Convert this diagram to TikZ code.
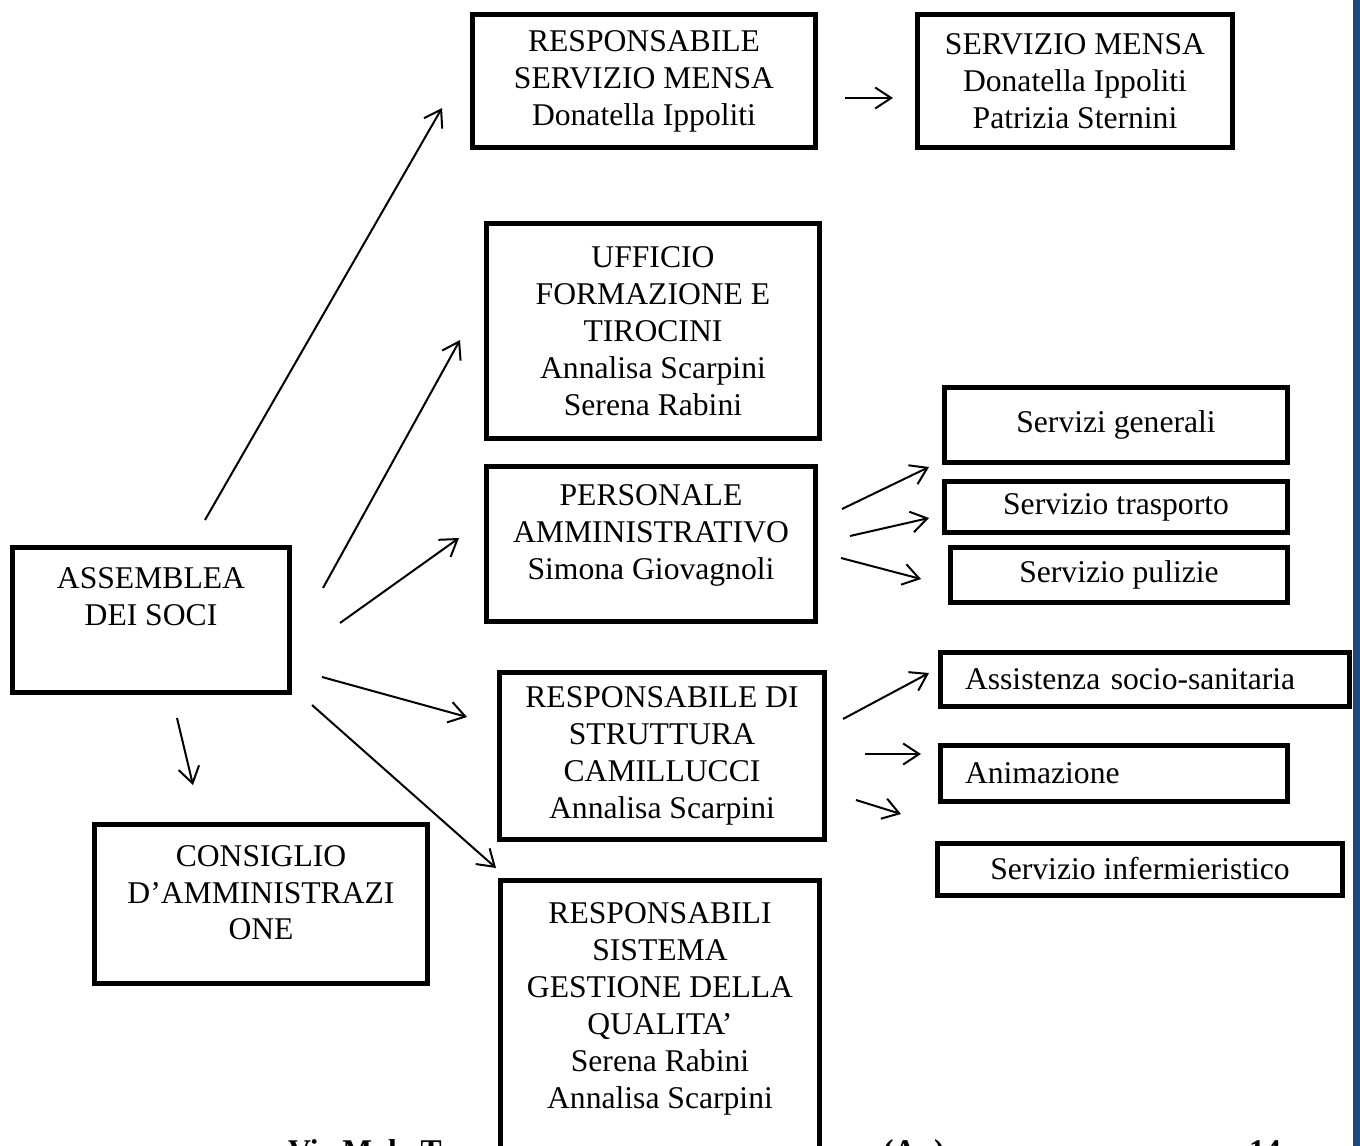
\documentclass[tikz,border=0pt]{standalone}
\usepackage{fontspec}
\setmainfont{Liberation Serif}
\usetikzlibrary{arrows.meta}
\definecolor{sidebar}{RGB}{31,73,125}

\begin{document}
\begin{tikzpicture}[x=0.02cm,y=-0.02cm,
    font=\fontsize{18}{21}\selectfont,
    box/.style={shape=rectangle,draw=black,line width=0.1cm,fill=white,align=center},
    arr/.style={-{Straight Barb[length=0.32cm,width=0.42cm]},line width=0.04cm}]
    \useasboundingbox (0,0) rectangle (1360,1146);
    \clip (0,0) rectangle (1360,1146);

    % footer of the page, partly hidden
    \node[font=\bfseries\fontsize{18}{21}\selectfont,anchor=base west] (footvia) at (282,1161) {Via Mola T};
    \node[font=\bfseries\fontsize{18}{21}\selectfont,anchor=base west] (footprov) at (877,1161) {(An)};
    \node[font=\bfseries\fontsize{18}{21}\selectfont,anchor=base west] (footpage) at (1243,1161) {14};

    \fill[sidebar] (1353,0) rectangle (1360,1146);

    \node[box,minimum width=6.88cm,minimum height=2.68cm] (respmensa) at (644,81) {RESPONSABILE\\SERVIZIO MENSA\\Donatella Ippoliti};
    \node[box,minimum width=6.32cm,minimum height=2.68cm] (mensa) at (1075,81) {SERVIZIO MENSA\\Donatella Ippoliti\\Patrizia Sternini};

    \node[box,minimum width=6.66cm,minimum height=4.3cm] (ufficio) at (653,331) {UFFICIO\\FORMAZIONE E\\TIROCINI\\Annalisa Scarpini\\Serena Rabini};
    \node[box,minimum width=6.58cm,minimum height=3.12cm] (personale) at (651,544) {PERSONALE\\AMMINISTRATIVO\\Simona Giovagnoli\\[-0.26cm]\mbox{}};

    \node[box,minimum width=5.56cm,minimum height=2.92cm] (assemblea) at (151,620) {ASSEMBLEA\\DEI SOCI\\[0.2cm]\mbox{}};
    \node[box,minimum width=6.66cm,minimum height=3.18cm] (consiglio) at (261,904) {CONSIGLIO\\D’AMMINISTRAZI\\ONE\\[-0.28cm]\mbox{}};

    \node[box,minimum width=6.5cm,minimum height=3.34cm] (struttura) at (662,756) {RESPONSABILE DI\\STRUTTURA\\CAMILLUCCI\\Annalisa Scarpini};
    \node[box,minimum width=6.4cm,minimum height=5.76cm] (qualita) at (660,1024) {RESPONSABILI\\SISTEMA\\GESTIONE DELLA\\QUALITA’\\Serena Rabini\\Annalisa Scarpini\\\mbox{}};

    \node[box,minimum width=6.86cm,minimum height=1.52cm] (generali) at (1116,425) {Servizi generali};
    \node[box,minimum width=6.86cm,minimum height=1.04cm] (trasporto) at (1116,507) {Servizio trasporto};
    \node[box,minimum width=6.76cm,minimum height=1.12cm] (pulizie) at (1119,575) {Servizio pulizie};

    \node[box,minimum width=8.2cm,minimum height=1.08cm,text width=7.2cm,inner xsep=0.5cm,align=left] (assistenza) at (1145,679) {Assistenza socio-sanitaria};
    \node[box,minimum width=6.96cm,minimum height=1.12cm,text width=5.96cm,inner xsep=0.5cm,align=left] (animazione) at (1114,773) {Animazione};
    \node[box,minimum width=8.12cm,minimum height=1.04cm] (infermieri) at (1140,869) {Servizio infermieristico};

    % arrows, free standing between the boxes
    \coordinate (s1) at (205,520);  \coordinate (e1) at (442,108);
    \coordinate (s2) at (845,98);   \coordinate (e2) at (893,98);
    \coordinate (s3) at (323,588);  \coordinate (e3) at (460,340);
    \coordinate (s4) at (340,623);  \coordinate (e4) at (459,538);
    \coordinate (s5) at (322,677);  \coordinate (e5) at (467,717);
    \coordinate (s6) at (312,705);  \coordinate (e6) at (496,868);
    \coordinate (s7) at (177,718);  \coordinate (e7) at (193,785);
    \coordinate (s8) at (842,509);  \coordinate (e8) at (929,467);
    \coordinate (s9) at (850,536);  \coordinate (e9) at (929,518);
    \coordinate (s10) at (841,558); \coordinate (e10) at (921,579);
    \coordinate (s11) at (843,719); \coordinate (e11) at (929,673);
    \coordinate (s12) at (865,754); \coordinate (e12) at (921,754);
    \coordinate (s13) at (856,800); \coordinate (e13) at (901,814);

    \path [arr] (s1) edge (e1);
    \path [arr] (s2) edge (e2);
    \path [arr] (s3) edge (e3);
    \path [arr] (s4) edge (e4);
    \path [arr] (s5) edge (e5);
    \path [arr] (s6) edge (e6);
    \path [arr] (s7) edge (e7);
    \path [arr] (s8) edge (e8);
    \path [arr] (s9) edge (e9);
    \path [arr] (s10) edge (e10);
    \path [arr] (s11) edge (e11);
    \path [arr] (s12) edge (e12);
    \path [arr] (s13) edge (e13);
\end{tikzpicture}
\end{document}
